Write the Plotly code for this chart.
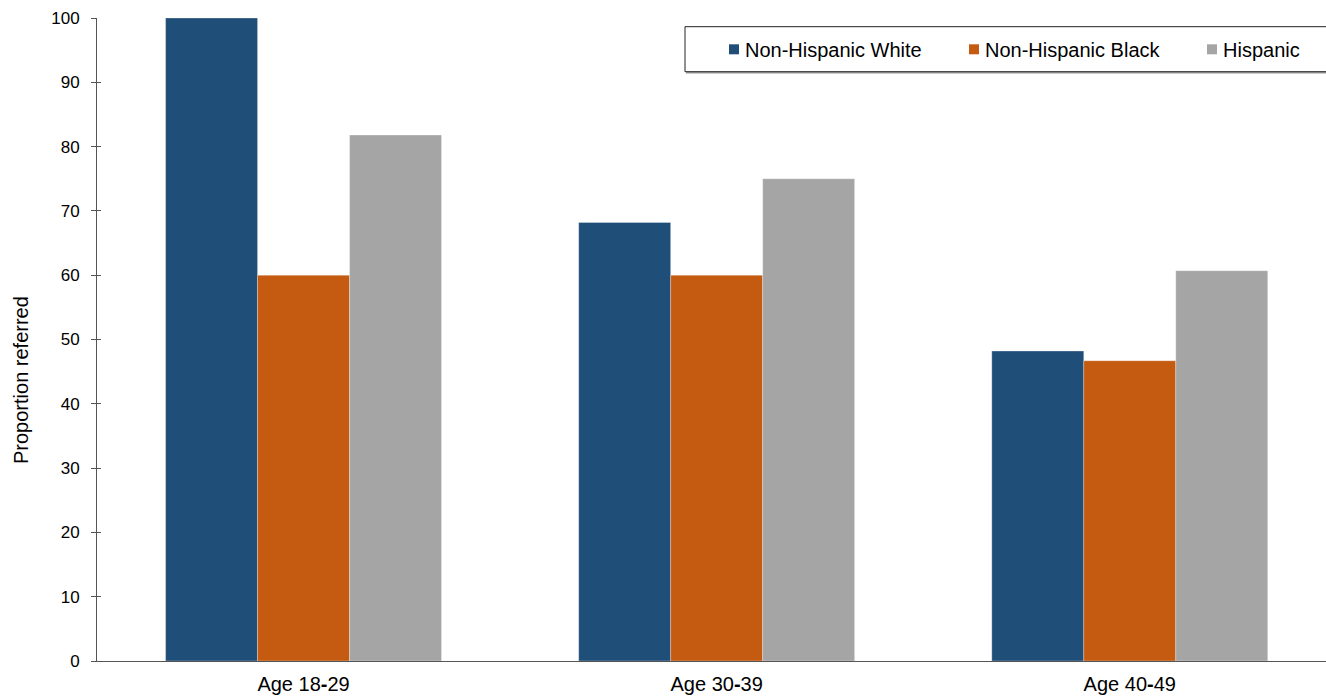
import plotly.graph_objects as go

# Referral proportions by age group and race/ethnicity
age_groups = ["Age 18-29", "Age 30-39", "Age 40-49"]
age_tick_text = ["Age 18<b>-</b>29", "Age 30<b>-</b>39", "Age 40<b>-</b>49"]
series_names = ["Non-Hispanic White", "Non-Hispanic Black", "Hispanic"]
white_values = [100.0, 68.2, 48.2]
black_values = [60.0, 60.0, 46.7]
hispanic_values = [81.8, 75.0, 60.7]
series_colors = ["#1F4E79", "#C55A11", "#A5A5A5"]
y_ticks = [0, 10, 20, 30, 40, 50, 60, 70, 80, 90, 100]

FONT = "Liberation Sans, Arial, sans-serif"
W, H = 1326, 697
M_L, M_R, M_T, M_B = 97, 0, 18, 36
plot_w = W - M_L - M_R
plot_h = H - M_T - M_B


def px_x(px):
    return (px - M_L) / plot_w


def px_y(py):
    return (H - M_B - py) / plot_h


fig = go.Figure()
for name, vals, col in zip(series_names, [white_values, black_values, hispanic_values], series_colors):
    fig.add_trace(go.Bar(
        x=list(range(len(age_groups))), y=vals, name=name,
        marker=dict(color=col, line=dict(color="rgba(255,255,255,0.3)", width=1)),
        showlegend=False,
    ))

# invisible trace carrying the inward half of the cross ticks
fig.add_trace(go.Scatter(x=[0], y=[0], yaxis="y2", mode="markers",
                         marker=dict(opacity=0), showlegend=False, hoverinfo="skip"))

fig.update_layout(
    width=W, height=H,
    margin=dict(l=M_L, r=M_R, t=M_T, b=M_B, autoexpand=False),
    paper_bgcolor="white", plot_bgcolor="white",
    barmode="group", bargap=0.332, bargroupgap=0,
    font=dict(family=FONT, color="#000000"),
    xaxis=dict(
        range=[-0.5, 2.475], tickmode="array",
        tickvals=list(range(len(age_groups))), ticktext=age_tick_text,
        showline=True, linecolor="#555555", linewidth=1,
        ticks="", showgrid=False, zeroline=False,
        tickfont=dict(size=20, family=FONT, color="#000000"),
        ticklabelstandoff=5, automargin=False,
    ),
    yaxis=dict(
        range=[0, 100], tickmode="array", tickvals=y_ticks,
        showline=True, linecolor="#555555", linewidth=1,
        ticks="outside", ticklen=5, tickcolor="#555555",
        showgrid=False, zeroline=False,
        tickfont=dict(size=17, family=FONT, color="#000000"),
        ticklabelstandoff=8, automargin=False,
    ),
    yaxis2=dict(
        range=[0, 100], overlaying="y", side="left", tickmode="array",
        tickvals=y_ticks, ticks="inside", ticklen=4, tickcolor="#555555",
        showticklabels=False, showgrid=False, zeroline=False, showline=False,
    ),
)

# axis title
fig.add_annotation(
    text="Proportion referred", textangle=-90, xref="paper", yref="paper",
    x=px_x(21), y=px_y(380), xanchor="center", yanchor="middle", showarrow=False,
    font=dict(size=20, family=FONT, color="#000000"),
)

# legend box
box_top, box_bot = 26.7, 71.7
fig.add_shape(type="line", xref="paper", yref="paper",
              x0=px_x(686), x1=px_x(1340), y0=px_y(box_bot + 1), y1=px_y(box_bot + 1),
              line=dict(color="#9a9a9a", width=1.5))
fig.add_shape(type="rect", xref="paper", yref="paper",
              x0=px_x(685), x1=px_x(1340), y0=px_y(box_bot), y1=px_y(box_top),
              line=dict(color="#222222", width=1), fillcolor="white", layer="above")

marker_left = [729, 969, 1207]
text_left = [745, 985, 1223]
for name, col, mx, tx in zip(series_names, series_colors, marker_left, text_left):
    fig.add_shape(type="rect", xref="paper", yref="paper",
                  x0=px_x(mx), x1=px_x(mx + 10), y0=px_y(54.3), y1=px_y(44.3),
                  line=dict(width=0), fillcolor=col, layer="above")
    fig.add_annotation(
        text=name, xref="paper", yref="paper", x=px_x(tx), y=px_y(49.5),
        xanchor="left", yanchor="middle", showarrow=False, xshift=-2,
        font=dict(size=20, family=FONT, color="#000000"),
    )

fig.write_html("out.html")
